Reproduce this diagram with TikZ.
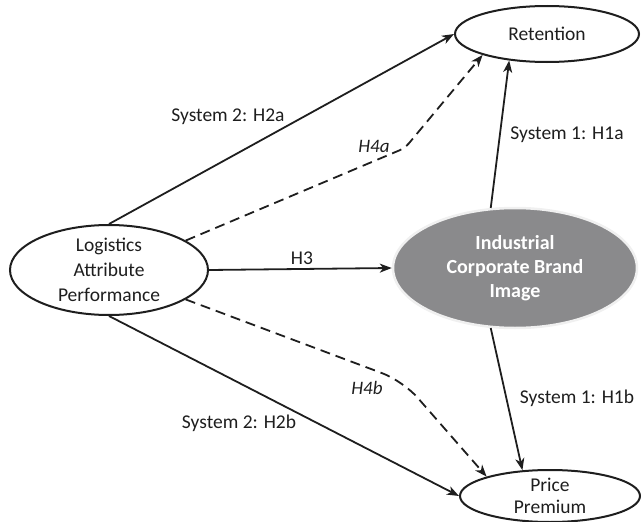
\documentclass[tikz,border=0pt]{standalone}
\usepackage{fontspec}
\setmainfont{Carlito}
\usepackage{tikz}
\usetikzlibrary{positioning,arrows.meta,shapes.geometric}
\definecolor{inkgray}{RGB}{30,30,30}
\definecolor{brandgray}{RGB}{138,138,140}

\begin{document}
\begin{tikzpicture}[x=1pt, y=-1pt, font=\fontsize{19.5}{25}\selectfont,
	construct/.style={ellipse, draw=inkgray, line width=2pt, inner sep=0pt,
		align=center, text=inkgray},
	path/.style={line width=1.8pt, draw=inkgray,
		-{Stealth[length=12pt,width=9pt,inset=3.5pt]}},
	mediated/.style={path, dash pattern=on 10pt off 6pt},
	lbl/.style={text=inkgray},
	hyp4/.style={text=inkgray, font=\fontsize{19}{22}\selectfont\itshape}]
		\useasboundingbox (0,0) rectangle (641,522);
		% constructs
		\node[construct, minimum width=198pt, minimum height=80pt] (lap)
			at (109,270) {Logistics\\Attribute\\Performance};
		\node[construct, minimum width=184pt, minimum height=56pt] (retention)
			at (547,34) {Retention};
		\node[construct, minimum width=180pt, minimum height=52pt,
			font=\fontsize{19.5}{22}\selectfont] (premium)
			at (550,496) {Price\\Premium};
		\node[ellipse, fill=brandgray, draw=white!88!gray, line width=2.5pt,
			minimum width=244pt, minimum height=120pt, inner sep=0pt,
			align=center, text=white, font=\fontsize{20}{24}\selectfont\bfseries]
			(brand) at (515,268) {Industrial\\Corporate Brand\\Image};
		% bends of the mediated paths
		\coordinate (kinkA) at (405,148);
		\coordinate (kinkB) at (403,381);
		% system 2 (direct)
		\draw[path] (lap.north) -- (retention.west);
		\draw[path] (lap.south) -- (premium.west);
		\draw[path] (lap.east) -- (brand.west);
		% system 1 (brand image)
		\draw[path] (brand.112) -- (retention.215);
		\draw[path] (brand.248) -- (premium.137);
		% mediation (dashed)
		\draw[mediated, rounded corners=6pt] (lap.21) -- (kinkA) -- (retention.198);
		\draw[mediated, rounded corners=22pt] (lap.-21) -- (kinkB) -- (premium.163);
		% labels
		\node[lbl] (h2a) at (228,117) {System 2: H2a};
		\node[lbl] (h2b) at (239,423) {System 2: H2b};
		\node[lbl] (h3) at (302,258) {H3};
		\node[lbl] (h1a) at (567,135) {System 1: H1a};
		\node[lbl] (h1b) at (577,398) {System 1: H1b};
		\node[hyp4] (h4a) at (374,146) {H4a};
		\node[hyp4] (h4b) at (367,388) {H4b};
	\end{tikzpicture}
\end{document}
